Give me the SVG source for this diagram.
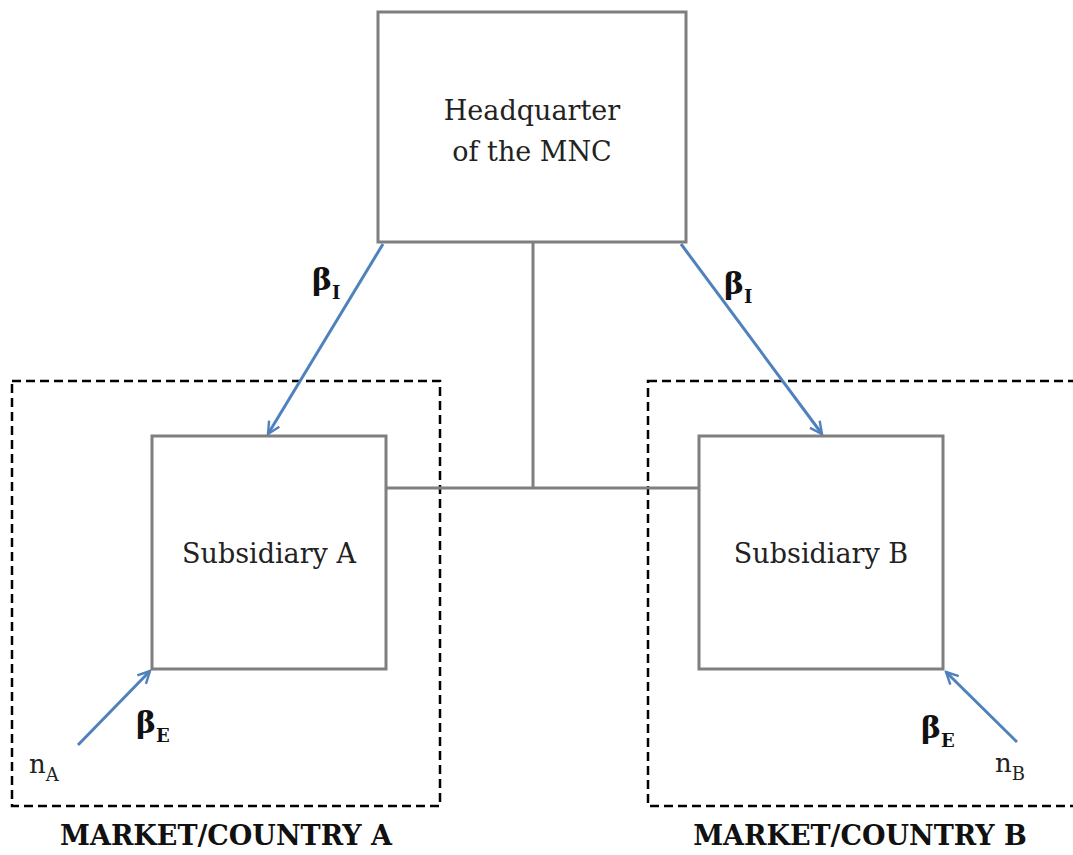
<svg xmlns="http://www.w3.org/2000/svg" width="1073" height="855" viewBox="0 0 1073 855">
<defs>
<marker id="ah" viewBox="0 0 10 10" refX="9" refY="5" markerWidth="5" markerHeight="5" orient="auto" markerUnits="strokeWidth">
<path d="M1,1 L9,5 L1,9" fill="none" stroke="#4F81BD" stroke-width="1.6"/>
</marker>
<style>
.box{fill:#fff;stroke:#7f7f7f;stroke-width:3}
.dash{fill:none;stroke:#000;stroke-width:2.5;stroke-dasharray:9,5}
.conn{fill:none;stroke:#7f7f7f;stroke-width:3}
.arr{fill:none;stroke:#4F81BD;stroke-width:3;marker-end:url(#ah)}
.t{font-family:"DejaVu Serif","Liberation Serif",serif;font-size:27px;fill:#222;text-anchor:middle}
.b{font-family:"DejaVu Serif","Liberation Serif",serif;font-weight:bold;fill:#111}
.n{font-family:"DejaVu Serif","Liberation Serif",serif;fill:#222}
</style>
</defs>
<rect width="1073" height="855" fill="#fff"/>
<g id="marketA"><rect class="dash" x="12" y="381" width="428" height="425"/>
<text class="b" x="226" y="845" font-size="27" text-anchor="middle">MARKET/COUNTRY A</text></g>
<g id="marketB"><rect class="dash" x="648" y="381" width="430" height="425"/>
<text class="b" x="860" y="845" font-size="27" text-anchor="middle">MARKET/COUNTRY B</text></g>
<g id="connectors">
<path class="conn" d="M533,242 V488 M386,488 H699"/>
<line class="arr" x1="383" y1="244" x2="268" y2="434"/>
<line class="arr" x1="681" y1="244" x2="822" y2="434"/>
<line class="arr" x1="78" y1="745" x2="150" y2="671"/>
<line class="arr" x1="1017" y1="742" x2="946" y2="672"/>
</g>
<g id="hq"><rect class="box" x="378" y="12" width="308" height="230"/>
<text class="t" x="532" y="120">Headquarter</text>
<text class="t" x="532" y="161">of the MNC</text></g>
<g id="subA"><rect class="box" x="152" y="436" width="234" height="233"/>
<text class="t" x="269" y="563">Subsidiary A</text></g>
<g id="subB"><rect class="box" x="699" y="436" width="244" height="233"/>
<text class="t" x="821" y="563">Subsidiary B</text></g>
<g id="labels">
<text class="b" x="312" y="290" font-size="30">β<tspan font-size="18" dy="9">I</tspan></text>
<text class="b" x="724" y="294" font-size="30">β<tspan font-size="18" dy="9">I</tspan></text>
<text class="b" x="136" y="733" font-size="30">β<tspan font-size="18" dy="9">E</tspan></text>
<text class="b" x="921" y="738" font-size="30">β<tspan font-size="18" dy="9">E</tspan></text>
<text class="n" x="29" y="773" font-size="26">n<tspan font-size="18" dy="8">A</tspan></text>
<text class="n" x="995" y="772" font-size="26">n<tspan font-size="18" dy="8">B</tspan></text>
</g>
</svg>
